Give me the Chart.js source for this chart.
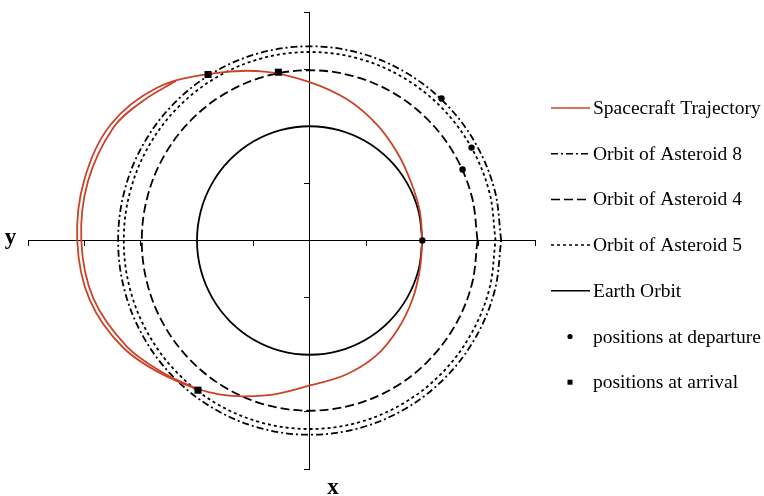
<!DOCTYPE html>
<html>
<head>
<meta charset="utf-8">
<script src="https://cdn.jsdelivr.net/npm/chart.js@4"></script>
<style>
  html, body { margin: 0; padding: 0; background: #fff; }
  #wrap { width: 764px; height: 496px; }
</style>
</head>
<body>
<div id="wrap"><canvas id="orbitChart" width="764" height="496"></canvas></div>
<script>
// distances in AU, one tick = 0.5 AU
const earthX = [1, 0.966, 0.866, 0.707, 0.5, 0.259, 0, -0.259, -0.5, -0.707, -0.866, -0.966, -1,
  -0.966, -0.866, -0.707, -0.5, -0.259, 0, 0.259, 0.5, 0.707, 0.866, 0.966, 1];
const earthY = [0, 0.259, 0.5, 0.707, 0.866, 0.966, 1, 0.966, 0.866, 0.707, 0.5, 0.259, 0,
  -0.259, -0.5, -0.707, -0.866, -0.966, -1, -0.966, -0.866, -0.707, -0.5, -0.259, 0];

const ast4X = [1.49, 1.439, 1.29, 1.053, 0.745, 0.386, 0, -0.386, -0.745, -1.053, -1.29, -1.439, -1.49,
  -1.439, -1.29, -1.053, -0.745, -0.386, 0, 0.386, 0.745, 1.053, 1.29, 1.439, 1.49];
const ast4Y = [0, 0.386, 0.745, 1.053, 1.29, 1.439, 1.49, 1.439, 1.29, 1.053, 0.745, 0.386, 0,
  -0.386, -0.745, -1.053, -1.29, -1.439, -1.49, -1.439, -1.29, -1.053, -0.745, -0.386, 0];

const ast5X = [1.65, 1.594, 1.429, 1.167, 0.825, 0.427, 0, -0.427, -0.825, -1.167, -1.429, -1.594, -1.65,
  -1.594, -1.429, -1.167, -0.825, -0.427, 0, 0.427, 0.825, 1.167, 1.429, 1.594, 1.65];
const ast5Y = [0, 0.427, 0.825, 1.167, 1.429, 1.594, 1.65, 1.594, 1.429, 1.167, 0.825, 0.427, 0,
  -0.427, -0.825, -1.167, -1.429, -1.594, -1.65, -1.594, -1.429, -1.167, -0.825, -0.427, 0];

const ast8X = [1.70, 1.642, 1.472, 1.202, 0.85, 0.44, 0, -0.44, -0.85, -1.202, -1.472, -1.642, -1.70,
  -1.642, -1.472, -1.202, -0.85, -0.44, 0, 0.44, 0.85, 1.202, 1.472, 1.642, 1.70];
const ast8Y = [0, 0.44, 0.85, 1.202, 1.472, 1.642, 1.70, 1.642, 1.472, 1.202, 0.85, 0.44, 0,
  -0.44, -0.85, -1.202, -1.472, -1.642, -1.70, -1.642, -1.472, -1.202, -0.85, -0.44, 0];

// spacecraft loop, leaving Earth and going anticlockwise
const trajX = [1.00, 0.977, 0.899, 0.778, 0.595, 0.335, 0, -0.402, -0.856, -1.355, -1.771, -2.001, -2.063,
  -1.954, -1.652, -1.227, -0.790, -0.367, 0, 0.319, 0.590, 0.784, 0.911, 0.977, 1.00];
const trajY = [0, 0.258, 0.512, 0.768, 1.016, 1.234, 1.387, 1.479, 1.463, 1.337, 1.009, 0.529, 0,
  -0.516, -0.941, -1.210, -1.349, -1.353, -1.269, -1.175, -1.008, -0.774, -0.519, -0.258, 0];

// second pass on the far side
const trajInnerX = [-1.188, -1.478, -1.740, -1.967, -2.027, -1.920, -1.625, -1.302, -1.022];
const trajInnerY = [1.397, 1.224, 0.991, 0.520, 0, -0.507, -0.926, -1.157, -1.290];

const departX = [1.0, 1.17, 1.437, 1.357];
const departY = [0, 1.243, 0.813, 0.621];
const arriveX = [-0.278, -0.902, -0.991];
const arriveY = [1.473, 1.453, -1.31];

const legendOrder = ['Spacecraft Trajectory', 'Orbit of Asteroid 8', 'Orbit of Asteroid 4',
  'Orbit of Asteroid 5', 'Earth Orbit', 'positions at departure', 'positions at arrival'];

const RED = '#cc4228';

function pts(xs, ys) {
  return xs.map((x, i) => ({ x: x, y: ys[i] }));
}

function curve(label, xs, ys, color, dash, order) {
  return {
    label: label,
    data: pts(xs, ys),
    showLine: true,
    borderColor: color,
    backgroundColor: color,
    borderWidth: 1.8,
    borderDash: dash,
    pointRadius: 0,
    tension: 0.35,
    fill: false,
    order: order
  };
}

const overlay = {
  id: 'overlay',
  afterDraw(chart) {
    const ctx = chart.ctx;
    ctx.save();
    ctx.fillStyle = '#000';
    ctx.font = 'bold 23px "Liberation Serif", serif';
    ctx.textAlign = 'center';
    ctx.textBaseline = 'alphabetic';
    ctx.fillText('y', 10.5, 244);
    ctx.fillText('x', 333, 494);

    // legend
    ctx.font = '19.5px "Liberation Serif", serif';
    ctx.textAlign = 'left';
    legendOrder.forEach((name, i) => {
      const ds = chart.data.datasets.find(d => d.label === name);
      const y = 108 + i * 45.7;
      if (ds.showLine) {
        ctx.save();
        ctx.strokeStyle = ds.borderColor;
        ctx.lineWidth = 1.5;
        ctx.setLineDash(ds.borderDash || []);
        ctx.beginPath();
        ctx.moveTo(551, y);
        ctx.lineTo(590, y);
        ctx.stroke();
        ctx.restore();
      } else if (ds.pointStyle === 'rect') {
        ctx.fillRect(567.5, y - 2.5, 5, 5);
      } else {
        ctx.beginPath();
        ctx.arc(570, y, 2.6, 0, Math.PI * 2);
        ctx.fill();
      }
      ctx.fillStyle = '#000';
      ctx.fillText(name, 593, y + 6);
    });
    ctx.restore();
  }
};

function axis(extra) {
  return Object.assign({
    type: 'linear',
    ticks: { display: false, stepSize: 0.5 },
    grid: { drawOnChartArea: false, drawTicks: true, tickLength: 5, color: '#000', lineWidth: 1 },
    border: { display: true, color: '#000', width: 1 }
  }, extra);
}

new Chart(document.getElementById('orbitChart'), {
  type: 'scatter',
  data: {
    datasets: [
      {
        label: 'positions at departure',
        data: pts(departX, departY),
        pointStyle: 'circle',
        pointRadius: 3.2,
        backgroundColor: '#000',
        borderColor: '#000',
        borderWidth: 0,
        showLine: false,
        order: 0
      },
      {
        label: 'positions at arrival',
        data: pts(arriveX, arriveY),
        pointStyle: 'rect',
        pointRadius: 5,
        backgroundColor: '#000',
        borderColor: '#000',
        borderWidth: 0,
        showLine: false,
        order: 0
      },
      curve('Spacecraft Trajectory', trajX, trajY, RED, [], 1),
      curve('', trajInnerX, trajInnerY, RED, [], 1),
      curve('Orbit of Asteroid 8', ast8X, ast8Y, '#000', [7, 3, 2, 3], 2),
      curve('Orbit of Asteroid 4', ast4X, ast4Y, '#000', [9, 4], 2),
      curve('Orbit of Asteroid 5', ast5X, ast5Y, '#000', [3, 3], 2),
      curve('Earth Orbit', earthX, earthY, '#000', [], 2)
    ]
  },
  options: {
    responsive: false,
    animation: false,
    layout: { padding: { left: 28, right: 229, top: 12, bottom: 27 } },
    plugins: { legend: { display: false }, tooltip: { enabled: false } },
    scales: {
      x: axis({ min: -2.5, max: 2, position: { y: 0 } }),
      y: axis({ min: -2, max: 2, position: { x: 0 } })
    }
  },
  plugins: [overlay]
});
</script>
</body>
</html>
